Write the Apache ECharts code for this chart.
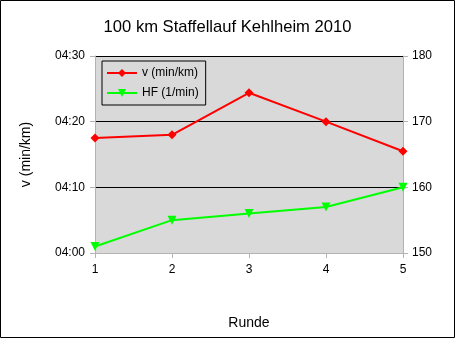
<!DOCTYPE html>
<html><head><meta charset="utf-8">
<script src="https://cdn.jsdelivr.net/npm/echarts@6/dist/echarts.min.js"></script>
<style>html,body{margin:0;padding:0;background:#fff}#c{width:455px;height:338px}</style>
</head><body><div id="c"></div>
<script>
const categories = ['1', '2', '3', '4', '5'];
// pace in seconds (04:00 = 240 s)
const paceSeconds = [257.5, 258, 264.4, 260, 255.5];
const heartRate = [151, 155, 156, 157, 160];
const leftTicks = [240, 250, 260, 270];
const rightTicks = [150, 160, 170, 180];

function fmt(s) {
  const m = Math.floor(s / 60), r = Math.round(s % 60);
  return String(m).padStart(2, '0') + ':' + String(r).padStart(2, '0');
}

const font = 'Liberation Sans, Arial, sans-serif';
const chart = echarts.init(document.getElementById('c'), null, {renderer: 'canvas'});
chart.setOption({
  animation: false,
  textStyle: {fontFamily: font},
  title: {
    text: '100 km Staffellauf Kehlheim 2010',
    left: 'center', top: 14,
    textStyle: {fontFamily: font, fontSize: 16.6, fontWeight: 'normal', color: '#000'}
  },
  graphic: [{
    type: 'rect', shape: {x: 0.5, y: 0.5, width: 454, height: 337},
    style: {fill: 'none', stroke: '#000', lineWidth: 1}, z: 100
  }],
  legend: {
    orient: 'vertical', left: 102, top: 61,
    borderColor: '#000', borderWidth: 1, padding: [6, 7, 6, 4],
    itemWidth: 30, itemHeight: 10, itemGap: 8,
    backgroundColor: '#d9d9d9',
    textStyle: {fontFamily: font, fontSize: 12, color: '#000'},
    data: ['v (min/km)', 'HF (1/min)']
  },
  grid: {
    left: 95, right: 52, top: 56, bottom: 85,
    show: true, backgroundColor: '#d9d9d9', borderWidth: 0
  },
  xAxis: {
    type: 'category', data: categories, boundaryGap: false,
    name: 'Runde', nameLocation: 'middle', nameGap: 63,
    nameTextStyle: {fontFamily: font, fontSize: 14, color: '#000'},
    axisLine: {lineStyle: {color: '#b3b3b3'}},
    axisTick: {show: true, length: 5, lineStyle: {color: '#b3b3b3'}},
    axisLabel: {fontFamily: font, fontSize: 12, color: '#000', margin: 11},
    splitLine: {show: false}
  },
  yAxis: [{
    type: 'value', min: leftTicks[0], max: leftTicks[leftTicks.length - 1], interval: 10,
    name: 'v (min/km)', nameLocation: 'middle', nameGap: 62,
    nameTextStyle: {fontFamily: font, fontSize: 14, color: '#000'},
    axisLine: {show: true, lineStyle: {color: '#b3b3b3'}},
    axisTick: {show: true, length: 5, lineStyle: {color: '#b3b3b3'}},
    axisLabel: {fontFamily: font, fontSize: 12, color: '#000', margin: 10, formatter: fmt},
    splitLine: {show: true, lineStyle: {color: '#000', width: 1}}
  }, {
    type: 'value', min: rightTicks[0], max: rightTicks[rightTicks.length - 1], interval: 10,
    position: 'right',
    axisLine: {show: true, lineStyle: {color: '#b3b3b3'}},
    axisTick: {show: true, length: 5, lineStyle: {color: '#b3b3b3'}},
    axisLabel: {fontFamily: font, fontSize: 12, color: '#000', margin: 9},
    splitLine: {show: false}
  }],
  series: [{
    name: 'v (min/km)', type: 'line', yAxisIndex: 0, data: paceSeconds,
    symbol: 'diamond', symbolSize: 9, showAllSymbol: true,
    lineStyle: {color: '#ff0000', width: 2}, itemStyle: {color: '#ff0000'}, z: 5
  }, {
    name: 'HF (1/min)', type: 'line', yAxisIndex: 1, data: heartRate,
    symbol: 'triangle', symbolRotate: 180, symbolSize: 9, showAllSymbol: true,
    lineStyle: {color: '#00ff00', width: 2}, itemStyle: {color: '#00ff00'}, z: 5
  }]
});
</script></body></html>
